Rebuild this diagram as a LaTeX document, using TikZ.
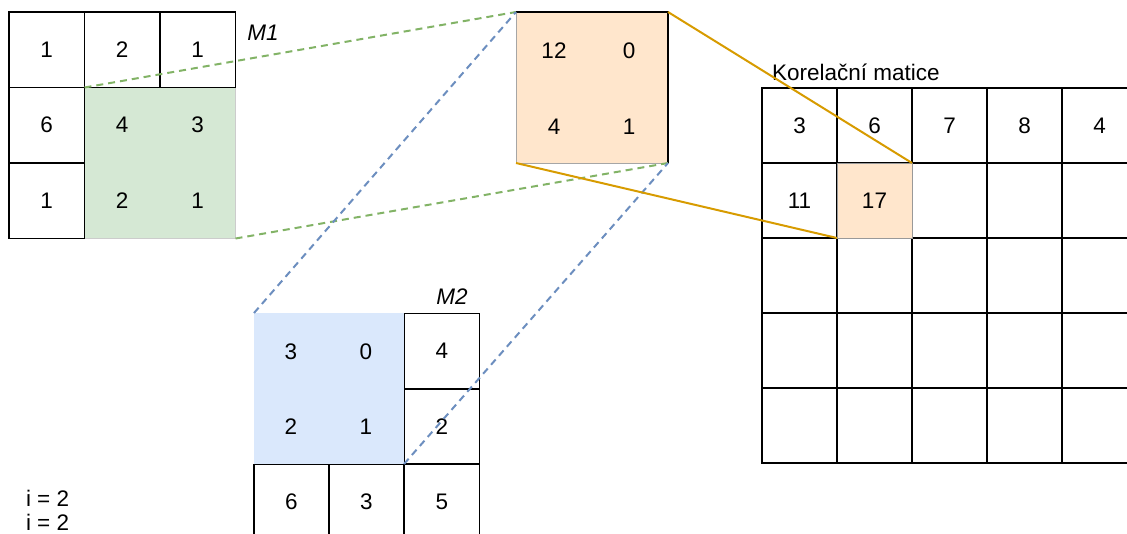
\documentclass[tikz,border=0pt]{standalone}
\usepackage{fontspec}
\setmainfont{Liberation Sans}
\definecolor{gfill}{HTML}{D5E8D4}
\definecolor{gline}{HTML}{82B366}
\definecolor{bfill}{HTML}{DAE8FC}
\definecolor{bline}{HTML}{6C8EBF}
\definecolor{ofill}{HTML}{FFE6CC}
\definecolor{oline}{HTML}{D79B00}
\begin{document}
\begin{tikzpicture}[x=1pt,y=-1pt,
  lbl/.style={inner sep=0pt,outer sep=0pt,font=\fontsize{22.5}{27}\selectfont},
  ital/.style={lbl,font=\fontsize{22.5}{27}\selectfont\itshape},
  cell/.style={lbl,draw=black,line width=1.5pt,minimum width=75pt,minimum height=75pt},
  bigcell/.style={cell,minimum width=75.5pt,minimum height=75.5pt},
  region/.style={lbl,draw=gray!40,line width=0.8pt},
  gdash/.style={draw=gline,line width=2pt,dash pattern=on 7pt off 5pt},
  bdash/.style={draw=bline,line width=2pt,dash pattern=on 7pt off 5pt},
  oconn/.style={draw=oline,line width=2pt}]
\useasboundingbox (0,0) rectangle (1127,533);
\clip (0,0) rectangle (1127,533);

% ---- M1 ----
\node[region,fill=gfill,minimum width=151pt,minimum height=151pt] (g) at (160,163) {};
\node[bigcell] (a11) at (46.75,49.75) {1};
\node[bigcell] (a12) at (122.25,49.75) {2};
\node[bigcell] (a13) at (197.75,49.75) {1};
\node[bigcell] (a21) at (46.75,125.25) {6};
\node[bigcell] (a31) at (46.75,200.75) {1};
\node[lbl] (a22) at (122.25,125.25) {4};
\node[lbl] (a23) at (197.75,125.25) {3};
\node[lbl] (a32) at (122.25,200.75) {2};
\node[lbl] (a33) at (197.75,200.75) {1};
\node[ital] (m1lbl) at (263,33) {M1};

% ---- orange window ----
\node[region,fill=ofill,draw=gray!70,minimum width=152pt,minimum height=151pt] (o) at (592,87.5) {};
\draw[black,line width=1.2pt] (o.north west) -- (o.north east) -- (o.south east);
\node[lbl] (o11) at (554,51) {12};
\node[lbl] (o12) at (629,51) {0};
\node[lbl] (o21) at (554,126.5) {4};
\node[lbl] (o22) at (629,126.5) {1};

% ---- result matrix ----
\node[lbl,anchor=west] (klbl) at (772,72) {Korelační matice};
\foreach \i in {1,...,5}{
  \foreach \j in {1,...,5}{
    \node[cell] (r\i\j) at ({799.5+75*(\j-1)},{125.5+75*(\i-1)}) {};
  }
}
\node[lbl] (t11) at (r11) {3};
\node[lbl] (t12) at (r12) {6};
\node[lbl] (t13) at (r13) {7};
\node[lbl] (t14) at (r14) {8};
\node[lbl] (t15) at (r15) {4};
\node[lbl] (t21) at (r21) {11};
\node[cell,fill=ofill,draw=gray!80,line width=1pt] (res) at (r22) {17};

% ---- M2 ----
\node[region,fill=bfill,draw=none,minimum width=150pt,minimum height=151pt] (b) at (329,388.5) {};
\node[lbl] (b11) at (291,352) {3};
\node[lbl] (b12) at (366,352) {0};
\node[lbl] (b21) at (291,427) {2};
\node[lbl] (b22) at (366,427) {1};
\node[cell] (c13) at (442,351) {4};
\node[cell] (c23) at (442,426.5) {2};
\node[cell] (c31) at (291.5,502) {6};
\node[cell] (c32) at (366.5,502) {3};
\node[cell] (c33) at (442,502) {5};
\node[ital] (m2lbl) at (452,297) {M2};

% ---- notes ----
\node[lbl,anchor=west] (i1) at (26,498) {i = 2};
\node[lbl,anchor=west] (i2) at (26,522) {i = 2};

% ---- connectors ----
\draw[gdash] (g.north west) -- (o.north west);
\draw[gdash] (g.south east) -- (o.south east);
\draw[bdash] (b.north west) -- (o.north west);
\draw[bdash] (b.south east) -- (o.south east);
\draw[oconn] (o.north east) -- (res.north east);
\draw[oconn] (o.south west) -- (res.south west);
\end{tikzpicture}
\end{document}
